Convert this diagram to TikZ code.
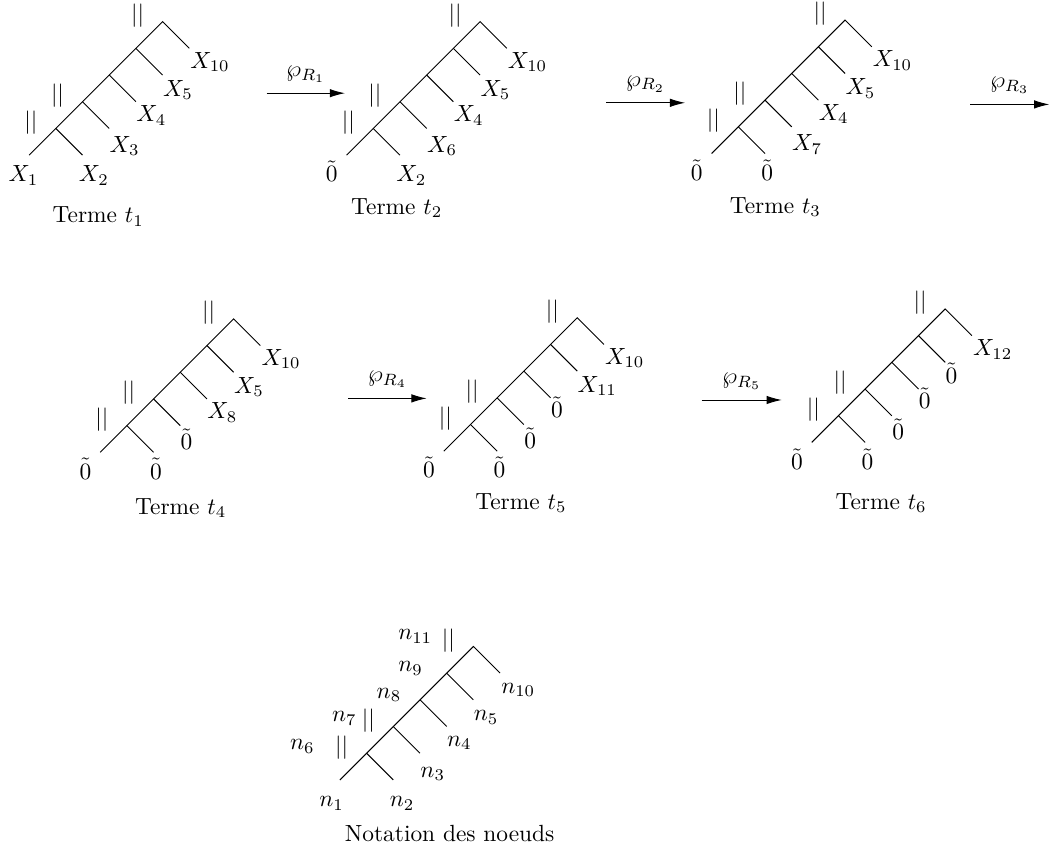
\documentclass[tikz,border=0pt]{standalone}
\usetikzlibrary{arrows.meta}
\tikzset{
  leaf/.style={anchor=base west, inner sep=0pt},
  inner/.style={anchor=base east, inner sep=0pt},
  bar/.style={anchor=east, inner sep=0pt},
  rule/.style={-{Latex[length=6.5pt,width=3.6pt]}},
}
% #1 = position of n6, #2 = name, #3..#8 = leaves n1 n2 n3 n4 n5 n10
\newcommand{\comb}[8]{%
  \begin{scope}[shift={#1}]
    \coordinate (#2-6) at (0,0);
    \coordinate (#2-7) at (1,1);
    \coordinate (#2-8) at (2,2);
    \coordinate (#2-9) at (3,3);
    \coordinate (#2-11) at (4,4);
    \coordinate (#2-1) at (-1,-1);
    \coordinate (#2-2) at (1,-1);
    \coordinate (#2-3) at (2,0);
    \coordinate (#2-4) at (3,1);
    \coordinate (#2-5) at (4,2);
    \coordinate (#2-10) at (5,3);
  \end{scope}
  \draw (#2-1) -- (#2-6) -- (#2-7) -- (#2-8) -- (#2-9) -- (#2-11) -- (#2-10);
  \draw (#2-6) -- (#2-2);
  \draw (#2-7) -- (#2-3);
  \draw (#2-8) -- (#2-4);
  \draw (#2-9) -- (#2-5);
  \node[leaf] (#2-l1) at ([shift={(-9pt,-11.4pt)}]#2-1) {#3};
  \node[leaf] (#2-l2) at ([shift={(-1.7pt,-11.4pt)}]#2-2) {#4};
  \node[leaf] (#2-l3) at ([shift={(0pt,-10.2pt)}]#2-3) {#5};
  \node[leaf] (#2-l4) at ([shift={(0pt,-8.5pt)}]#2-4) {#6};
  \node[leaf] (#2-l5) at ([shift={(0pt,-9pt)}]#2-5) {#7};
  \node[leaf] (#2-l10) at ([shift={(0.3pt,-8.5pt)}]#2-10) {#8};
  \node[bar] (#2-b6) at ([shift={(-7.7pt,2.6pt)}]#2-6) {$||$};
  \node[bar] (#2-b7) at ([shift={(-7.7pt,2.6pt)}]#2-7) {$||$};
  \node[bar] (#2-b11) at ([shift={(-7.7pt,2.6pt)}]#2-11) {$||$};
}
\begin{document}
\begin{tikzpicture}[x=0.401cm,y=0.401cm]
  \useasboundingbox (0,0) rectangle (39.55,-31.98);

  \comb{(2.09,-4.81)}{T1}{$X_1$}{$X_2$}{$X_3$}{$X_4$}{$X_5$}{$X_{10}$}
  \comb{(13.98,-4.81)}{T2}{$\tilde{0}$}{$X_2$}{$X_6$}{$X_4$}{$X_5$}{$X_{10}$}
  \comb{(27.65,-4.75)}{T3}{$\tilde{0}$}{$\tilde{0}$}{$X_7$}{$X_4$}{$X_5$}{$X_{10}$}
  \comb{(4.75,-15.94)}{T4}{$\tilde{0}$}{$\tilde{0}$}{$\tilde{0}$}{$X_8$}{$X_5$}{$X_{10}$}
  \comb{(17.62,-15.90)}{T5}{$\tilde{0}$}{$\tilde{0}$}{$\tilde{0}$}{$\tilde{0}$}{$X_{11}$}{$X_{10}$}
  \comb{(31.40,-15.57)}{T6}{$\tilde{0}$}{$\tilde{0}$}{$\tilde{0}$}{$\tilde{0}$}{$\tilde{0}$}{$X_{12}$}
  \comb{(13.73,-28.21)}{N}{$n_1$}{$n_2$}{$n_3$}{$n_4$}{$n_5$}{$n_{10}$}

  \node[inner] (N-l6) at ([shift={(-22pt,1.6pt)}]N-6) {$n_6$};
  \node[inner] (N-l7) at ([shift={(-15.5pt,2pt)}]N-7) {$n_7$};
  \node[inner] (N-l8) at ([shift={(-7.8pt,0.7pt)}]N-8) {$n_8$};
  \node[inner] (N-l9) at ([shift={(-10pt,0.7pt)}]N-9) {$n_9$};
  \node[inner] (N-l11) at ([shift={(-17.4pt,2.9pt)}]N-11) {$n_{11}$};

  \coordinate (a1s) at (9.99,-3.49);   \coordinate (a1e) at (12.92,-3.49);
  \coordinate (a2s) at (22.70,-3.85);  \coordinate (a2e) at (25.66,-3.85);
  \coordinate (a3s) at (36.33,-3.91);  \coordinate (a3e) at (39.30,-3.91);
  \coordinate (a4s) at (13.04,-14.92); \coordinate (a4e) at (15.98,-14.92);
  \coordinate (a5s) at (26.28,-14.98); \coordinate (a5e) at (29.28,-14.98);
  \draw[rule] (a1s) -- (a1e) node[midway,above=1pt] (r1) {$\wp_{R_1}$};
  \draw[rule] (a2s) -- (a2e) node[midway,above=1pt] (r2) {$\wp_{R_2}$};
  \draw[rule] (a3s) -- (a3e) node[midway,above=1pt] (r3) {$\wp_{R_3}$};
  \draw[rule] (a4s) -- (a4e) node[midway,above=1pt] (r4) {$\wp_{R_4}$};
  \draw[rule] (a5s) -- (a5e) node[midway,above=1pt] (r5) {$\wp_{R_5}$};

  \node (c1) at (3.68,-8.12) {Terme $t_1$};
  \node (c2) at (14.86,-7.80) {Terme $t_2$};
  \node (c3) at (29.04,-7.75) {Terme $t_3$};
  \node (c4) at (6.77,-19.03) {Terme $t_4$};
  \node (c5) at (19.51,-18.85) {Terme $t_5$};
  \node (c6) at (33.00,-18.85) {Terme $t_6$};
  \node (cn) at (16.84,-31.21) {Notation des noeuds};
\end{tikzpicture}
\end{document}
